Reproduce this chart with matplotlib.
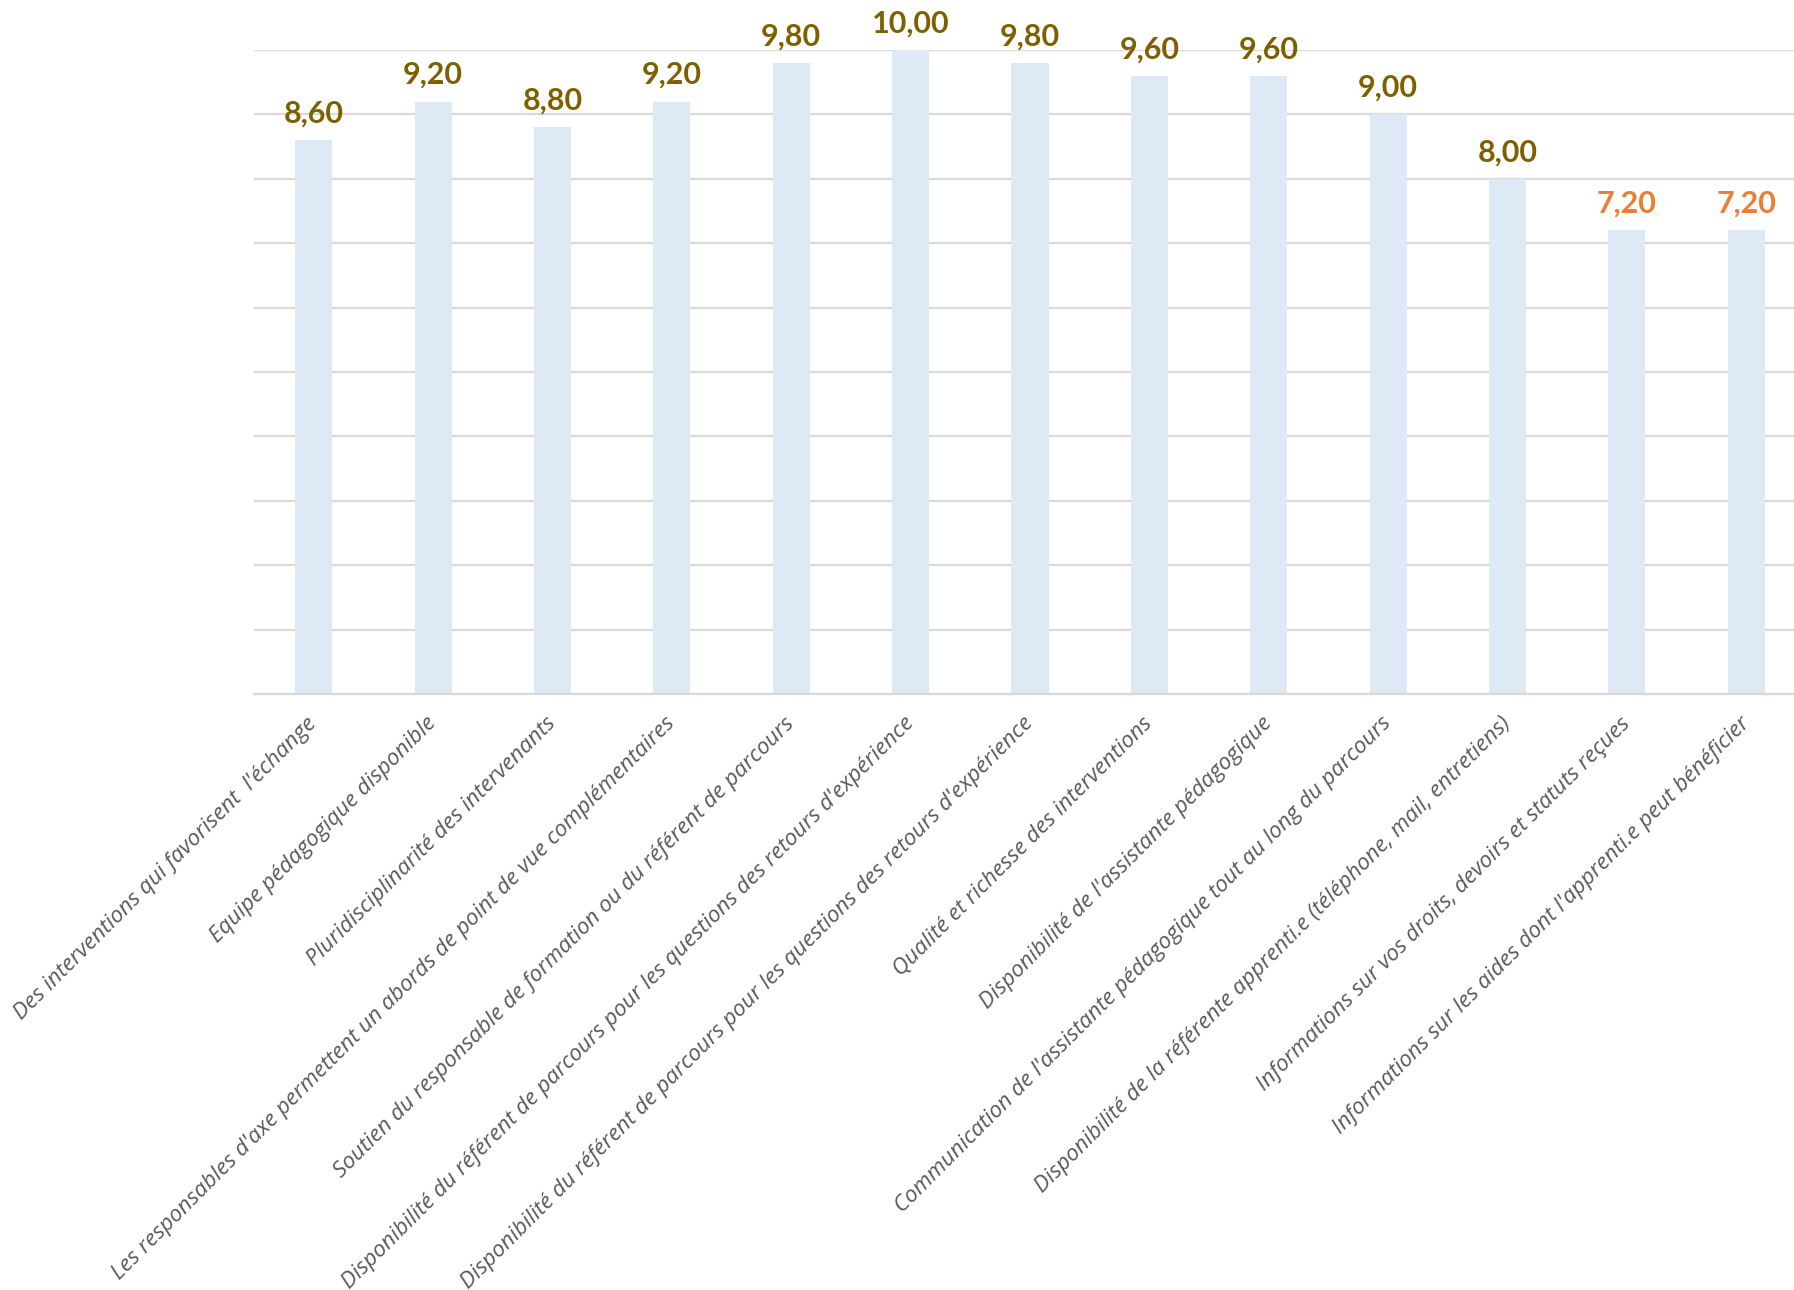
import matplotlib
matplotlib.use("Agg")
from matplotlib import pyplot as plt

categories = [
    "Des interventions qui favorisent  l'échange",
    "Equipe pédagogique disponible",
    "Pluridisciplinarité des intervenants",
    "Les responsables d'axe permettent un abords de point de vue complémentaires",
    "Soutien du responsable de formation ou du référent de parcours",
    "Disponibilité du référent de parcours pour les questions des retours d'expérience",
    "Disponibilité du référent de parcours pour les questions des retours d'expérience",
    "Qualité et richesse des interventions",
    "Disponibilité de l'assistante pédagogique",
    "Communication de l'assistante pédagogique tout au long du parcours",
    "Disponibilité de la référente apprenti.e (téléphone, mail, entretiens)",
    "Informations sur vos droits, devoirs et statuts reçues",
    "Informations sur les aides dont l'apprenti.e peut bénéficier",
]
scores = [8.6, 9.2, 8.8, 9.2, 9.8, 10.0, 9.8, 9.6, 9.6, 9.0, 8.0, 7.2, 7.2]
low_threshold = 7.5

bar_color = "#dde9f5"
grid_color = "#d9d9d9"
label_color = "#7f6000"
low_color = "#ed7d31"
tick_color = "#595959"

fig = plt.figure(figsize=(17.94, 12.90), dpi=100)
# the plot area runs slightly past the right edge of the picture
ax = fig.add_axes([254 / 1794, 1 - 694 / 1290, 1552 / 1794, 644 / 1290])

x = list(range(len(scores)))
ax.bar(x, scores, width=0.31, color=bar_color, zorder=2)

for xi, v in zip(x, scores):
    col = low_color if v < low_threshold else label_color
    ax.annotate(f"{v:.2f}".replace(".", ","), (xi, v), xytext=(0, 9),
                textcoords="offset points", ha="center", va="bottom",
                fontsize=22, fontweight="bold", color=col, family="Lato")

ax.set_xlim(-0.5, len(scores) - 0.5)
ax.set_ylim(0, 10)
ax.set_yticks(range(0, 11))
ax.yaxis.grid(True, color=grid_color, linewidth=1.6, zorder=0)
ax.tick_params(axis="y", left=False, labelleft=False)
ax.tick_params(axis="x", length=0, pad=19)
ax.set_xticks(x)
ax.set_xticklabels(categories, rotation=45, ha="right", va="center",
                   rotation_mode="anchor", fontsize=16.2, fontstyle="italic",
                   color=tick_color, family="Open Sans")

for side in ["top", "right", "left"]:
    ax.spines[side].set_visible(False)
ax.spines["bottom"].set_color(grid_color)
ax.spines["bottom"].set_linewidth(1.6)

fig.savefig("out.png", dpi=100)
